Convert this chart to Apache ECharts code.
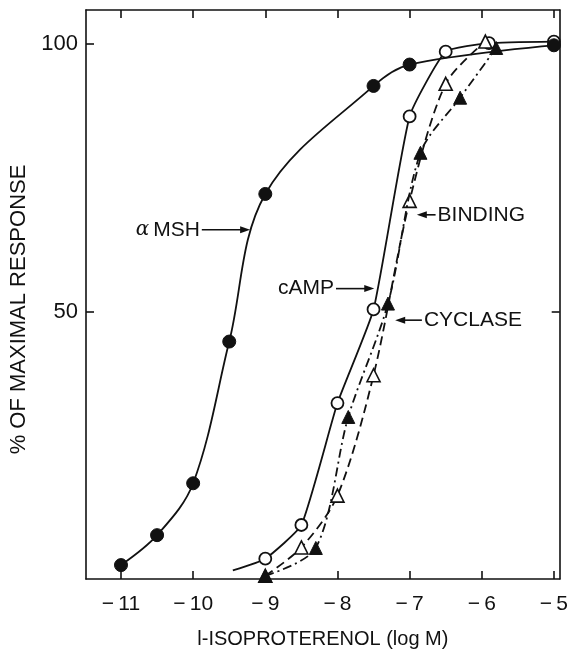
<!DOCTYPE html>
<html>
<head>
<meta charset="utf-8">
<script src="https://cdn.jsdelivr.net/npm/echarts@6/dist/echarts.min.js"></script>
<style>
  html, body { margin: 0; padding: 0; background: #fff; }
  #chart { width: 571px; height: 654px; }
</style>
</head>
<body>
<div id="chart"></div>
<script>
// Dose-response of l-isoproterenol: log concentration (M) vs % of maximal response
const xTicks = [-11, -10, -9, -8, -7, -6, -5];
const yTicks = [50, 100];

// alpha-MSH response (filled circles)
const mshPoints = [[-11, 2.6], [-10.5, 8.2], [-10, 17.9], [-9.5, 44.4], [-9, 72.0], [-7.5, 92.2], [-7, 96.2], [-5, 99.8]];
// cAMP accumulation (open circles); first pair is the unmarked low-dose extension of the curve
const campPoints = [[-9.45, 1.6], [-9, 3.8], [-8.5, 10.1], [-8, 32.9], [-7.5, 50.4], [-7, 86.5], [-6.5, 98.6], [-5.9, 100.2], [-5, 100.5]];
// receptor binding (open triangles)
const bindingPoints = [[-9, 0.6], [-8.5, 5.9], [-8, 15.6], [-7.5, 38.1], [-7, 70.7], [-6.5, 92.6], [-5.95, 100.5]];
// adenylate cyclase activity (filled triangles)
const cyclasePoints = [[-9, 0.6], [-8.3, 5.8], [-7.85, 30.3], [-7.3, 51.5], [-6.85, 79.7], [-6.3, 90.0], [-5.8, 99.3]];

const FONT = "'Liberation Sans', Arial, Helvetica, sans-serif";
const INK = '#111';

// curve labels with arrows, in data units: arrow from tail to tip, text beside the tail
const notes = [
  { text: '{a|α}MSH', tail: [-9.88, 65.3], tip: [-9.21, 65.3], side: 'left' },
  { text: 'cAMP', tail: [-8.02, 54.3], tip: [-7.49, 54.3], side: 'left' },
  { text: 'BINDING', tail: [-6.64, 68.1], tip: [-6.90, 68.1], side: 'right' },
  { text: 'CYCLASE', tail: [-6.83, 48.4], tip: [-7.20, 48.4], side: 'right' }
];

const chart = echarts.init(document.getElementById('chart'), null, { renderer: 'canvas' });

const boxLine = { show: true, onZero: false, lineStyle: { color: INK, width: 1.6 } };
const tickStyle = { color: INK, width: 1.6 };

const option = {
  backgroundColor: '#fff',
  animation: false,
  grid: { left: 86, right: 11, top: 10, bottom: 66, containLabel: false },
  xAxis: [
    {
      type: 'value', position: 'bottom', min: -11.485, max: -4.92,
      axisLine: boxLine,
      axisTick: { show: true, inside: true, length: 8, customValues: xTicks, lineStyle: tickStyle },
      axisLabel: {
        show: true, customValues: xTicks, margin: 15,
        fontFamily: FONT, fontSize: 21, color: INK,
        formatter: v => (v < 0 ? '\u2212\u2009' + Math.abs(v) : String(v))
      },
      splitLine: { show: false },
      name: 'l-ISOPROTERENOL (log M)', nameLocation: 'middle', nameGap: 50,
      nameTextStyle: { fontFamily: FONT, fontSize: 20, color: INK }
    },
    {
      type: 'value', position: 'top', min: -11.485, max: -4.92,
      axisLine: boxLine,
      axisTick: { show: true, inside: true, length: 8, customValues: xTicks, lineStyle: tickStyle },
      axisLabel: { show: false },
      splitLine: { show: false }
    }
  ],
  yAxis: [
    {
      type: 'value', position: 'left', min: 0, max: 106.4,
      axisLine: boxLine,
      axisTick: { show: true, inside: true, length: 8, customValues: yTicks, lineStyle: tickStyle },
      axisLabel: { show: true, customValues: yTicks, margin: 8, fontFamily: FONT, fontSize: 22, color: INK },
      splitLine: { show: false },
      name: '% OF MAXIMAL RESPONSE', nameLocation: 'middle', nameRotate: 90, nameGap: 52,
      nameTextStyle: { fontFamily: FONT, fontSize: 22, color: INK, padding: [0, 30, 0, 0] }
    },
    {
      type: 'value', position: 'right', min: 0, max: 106.4,
      axisLine: boxLine,
      axisTick: { show: true, inside: true, length: 8, customValues: yTicks, lineStyle: tickStyle },
      axisLabel: { show: false },
      splitLine: { show: false }
    }
  ],
  series: [
    {
      name: 'cAMP', type: 'line', smooth: 0.15,
      data: campPoints.map((p, i) => (i === 0 ? { value: p, symbol: 'none' } : p)),
      symbol: 'circle', symbolSize: 12,
      itemStyle: { color: '#fff', borderColor: INK, borderWidth: 1.8 },
      lineStyle: { color: INK, width: 1.8, type: 'solid' },
      z: 3
    },
    {
      name: 'BINDING', type: 'line', smooth: 0.3,
      data: bindingPoints,
      symbol: 'triangle', symbolSize: 13,
      itemStyle: { color: '#fff', borderColor: INK, borderWidth: 1.6 },
      lineStyle: { color: INK, width: 1.8, type: [9, 5] },
      z: 3
    },
    {
      name: 'CYCLASE', type: 'line', smooth: 0.3,
      data: cyclasePoints,
      symbol: 'triangle', symbolSize: 13,
      itemStyle: { color: INK, borderColor: INK, borderWidth: 1 },
      lineStyle: { color: INK, width: 1.8, type: [9, 4, 2, 4] },
      z: 4
    },
    {
      name: 'αMSH', type: 'line', smooth: 0.35,
      data: mshPoints,
      symbol: 'circle', symbolSize: 13,
      itemStyle: { color: INK, borderColor: INK, borderWidth: 1 },
      lineStyle: { color: INK, width: 1.8, type: 'solid' },
      z: 5
    }
  ]
};

chart.setOption(option);

// Build the labelled arrows once the grid coordinate system is ready
function arrowGraphics() {
  const els = [];
  notes.forEach(n => {
    const t = chart.convertToPixel({ gridIndex: 0 }, n.tail);
    const h = chart.convertToPixel({ gridIndex: 0 }, n.tip);
    const dir = Math.sign(h[0] - t[0]);
    const headLen = 10, headHalf = 3.5;
    els.push({
      type: 'line', silent: true,
      shape: { x1: t[0], y1: t[1], x2: h[0] - dir * headLen * 0.8, y2: h[1] },
      style: { stroke: INK, lineWidth: 1.6 }
    });
    els.push({
      type: 'polygon', silent: true,
      shape: { points: [[h[0], h[1]], [h[0] - dir * headLen, h[1] - headHalf], [h[0] - dir * headLen, h[1] + headHalf]] },
      style: { fill: INK }
    });
    els.push({
      type: 'text', silent: true,
      x: n.side === 'left' ? t[0] - 2 : t[0] + 2,
      y: t[1],
      style: {
        text: n.text,
        fontFamily: FONT, fontSize: 21, fill: INK,
        align: n.side === 'left' ? 'right' : 'left',
        verticalAlign: 'middle',
        rich: {
          a: { fontFamily: 'DejaVu Serif, serif', fontStyle: 'italic', fontSize: 20, fill: INK, padding: [0, 4, 0, 0] }
        }
      }
    });
  });
  return els;
}

chart.setOption({ graphic: arrowGraphics() });
</script>
</body>
</html>
